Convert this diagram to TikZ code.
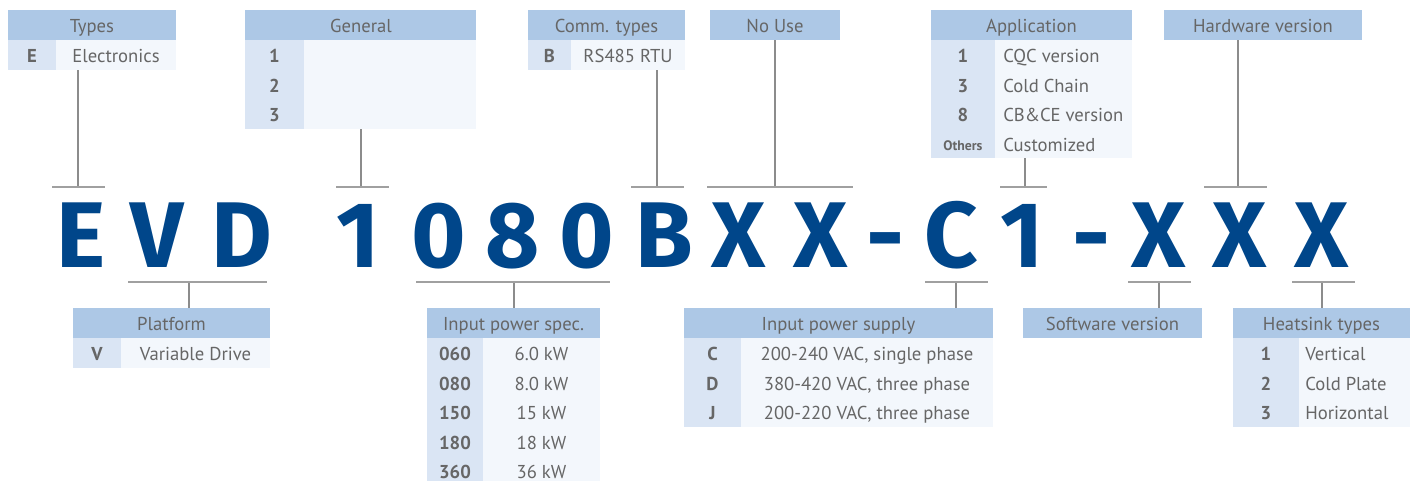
\documentclass[tikz,border=0pt]{standalone}
\usepackage{fontspec}
\setmainfont{PT Sans}
\newfontfamily\bigfont{Fira Sans}
\definecolor{hdrc}{HTML}{ADC8E6}
\definecolor{codec}{HTML}{DAE5F4}
\definecolor{datac}{HTML}{F3F7FC}
\definecolor{txtc}{HTML}{666666}
\definecolor{evd}{HTML}{00468A}
\definecolor{lnc}{HTML}{8C8C8C}
\definecolor{tkc}{HTML}{A0A0A0}
\tikzset{
  lbl/.style={text=txtc, font=\fontsize{14}{16}\selectfont, inner sep=0pt, anchor=base},
  lbll/.style={lbl, anchor=base west},
  codetxt/.style={text=txtc, font=\bfseries\fontsize{14}{16}\selectfont, inner sep=0pt, anchor=base},
  smallcode/.style={text=txtc, font=\bfseries\fontsize{10.3}{12}\selectfont, inner sep=0pt, anchor=base},
  big/.style={text=evd, font=\bigfont\bfseries\fontsize{70}{70}\selectfont, inner sep=0pt, anchor=base},
  conn/.style={draw=lnc, line width=0.8pt},
  tickline/.style={draw=tkc, line width=1.3pt},
}
\newcommand\lnk[6]{%
  \coordinate (#1b) at (#2,#3);
  \coordinate (#1t) at (#2,#4);
  \coordinate (#1l) at (#5,#4);
  \coordinate (#1r) at (#6,#4);
  \draw[conn] (#1b) -- (#1t);
  \draw[tickline] (#1l) -- (#1r);}
\begin{document}
\begin{tikzpicture}[x=0.75pt,y=-0.75pt]
\useasboundingbox (0,0) rectangle (1415,480);
\clip (0,0) rectangle (1415,480);

% ---------- Types ----------
\fill[hdrc] (8,10) rectangle (176,40);
\fill[codec] (8,40) rectangle (56,70);
\fill[datac] (56,40) rectangle (176,70);
\node[lbl] (types) at (92,32.5) {Types};
\node[codetxt] (typesE) at (32,62.5) {E};
\node[lbl] (typesEv) at (116,62.5) {Electronics};
\lnk{types}{78}{70}{187}{52}{105}

% ---------- General ----------
\fill[hdrc] (245,10) rectangle (476,40);
\fill[codec] (245,40) rectangle (304,129);
\fill[datac] (304,40) rectangle (476,129);
\node[lbl] (gen) at (361,32.5) {General};
\node[codetxt] (gen1) at (274.5,62.5) {1};
\node[codetxt] (gen2) at (274.5,92.2) {2};
\node[codetxt] (gen3) at (274.5,121.8) {3};
\lnk{gen}{361}{129}{187}{336}{389}

% ---------- Comm. types ----------
\fill[hdrc] (528,10) rectangle (685,40);
\fill[codec] (528,40) rectangle (571,70);
\fill[datac] (571,40) rectangle (685,70);
\node[lbl] (comm) at (606.5,32.5) {Comm. types};
\node[codetxt] (commB) at (549.5,62.5) {B};
\node[lbl] (commBv) at (628,62.5) {RS485 RTU};
\lnk{comm}{657}{70}{187}{631}{684}

% ---------- No Use ----------
\fill[hdrc] (710,10) rectangle (840,40);
\node[lbl] (nouse) at (775,32.5) {No Use};
\lnk{nouse}{775}{40}{187}{707}{853}

% ---------- Application ----------
\fill[hdrc] (931,10) rectangle (1132,40);
\fill[codec] (931,40) rectangle (995,158);
\fill[datac] (995,40) rectangle (1132,158);
\node[lbl] (app) at (1031.5,32.5) {Application};
\node[codetxt] (app1) at (963,62.5) {1};
\node[codetxt] (app3) at (963,92.2) {3};
\node[codetxt] (app8) at (963,121.8) {8};
\node[smallcode] (appO) at (963,150.5) {Others};
\node[lbll] (app1v) at (1003,62.5) {CQC version};
\node[lbll] (app3v) at (1003,92.2) {Cold Chain};
\node[lbll] (app8v) at (1003,121.8) {CB\&CE version};
\node[lbll] (appOv) at (1003,151.5) {Customized};
\lnk{app}{1025}{158}{187}{1000}{1047}

% ---------- Hardware version ----------
\fill[hdrc] (1164,10) rectangle (1362,40);
\node[lbl] (hw) at (1263,32.5) {Hardware version};
\lnk{hw}{1238}{40}{187}{1204}{1267}

% ---------- big code ----------
\node[big] (l1) at (81,267.3) {E};
\node[big] (l2) at (157,267.3) {V};
\node[big] (l3) at (242,267.3) {D};
\node[big] (l4) at (358,267.3) {1};
\node[big] (l5) at (438.5,267.3) {0};
\node[big] (l6) at (512.5,267.3) {8};
\node[big] (l7) at (586.5,267.3) {0};
\node[big] (l8) at (664,267.3) {B};
\node[big] (l9) at (738.5,267.3) {X};
\node[big] (l10) at (820.5,267.3) {X};
\node[big] (l11) at (885,267.3) {-};
\node[big] (l12) at (951,267.3) {C};
\node[big] (l13) at (1022,267.3) {1};
\node[big] (l14) at (1091,267.3) {-};
\node[big] (l15) at (1159,267.3) {X};
\node[big] (l16) at (1240,267.3) {X};
\node[big] (l17) at (1321.5,267.3) {X};

% ---------- Platform ----------
\lnk{plat}{189}{308}{282}{128}{267}
\fill[hdrc] (73,308) rectangle (270,338);
\fill[codec] (73,338) rectangle (121,368);
\fill[datac] (121,338) rectangle (270,368);
\node[lbl] (plath) at (171.5,330.5) {Platform};
\node[codetxt] (platV) at (97,360.5) {V};
\node[lbl] (platVv) at (195.5,360.5) {Variable Drive};

% ---------- Input power spec. ----------
\lnk{ips}{514}{308}{282}{416}{610}
\fill[hdrc] (427,308) rectangle (600,338);
\fill[codec] (427,338) rectangle (483,490);
\fill[datac] (483,338) rectangle (600,490);
\node[lbl] (ipsh) at (513.5,330.5) {Input power spec.};
\node[codetxt] (ips1) at (455,360.5) {060};
\node[codetxt] (ips2) at (455,390.2) {080};
\node[codetxt] (ips3) at (455,419.8) {150};
\node[codetxt] (ips4) at (455,449.5) {180};
\node[codetxt] (ips5) at (455,478.5) {360};
\node[lbl] (ips1v) at (541.5,360.5) {6.0 kW};
\node[lbl] (ips2v) at (541.5,390.2) {8.0 kW};
\node[lbl] (ips3v) at (541.5,419.8) {15 kW};
\node[lbl] (ips4v) at (541.5,449.5) {18 kW};
\node[lbl] (ips5v) at (541.5,478.5) {36 kW};

% ---------- Input power supply ----------
\lnk{ipp}{956}{308}{282}{925}{988}
\fill[hdrc] (684,308) rectangle (993,338);
\fill[codec] (684,338) rectangle (741,427);
\fill[datac] (741,338) rectangle (993,427);
\node[lbl] (ipph) at (838.5,330.5) {Input power supply};
\node[codetxt] (ippC) at (712.5,360.5) {C};
\node[codetxt] (ippD) at (712.5,390.2) {D};
\node[codetxt] (ippJ) at (712.5,419.8) {J};
\node[lbl] (ippCv) at (867,360.5) {200-240 VAC, single phase};
\node[lbl] (ippDv) at (867,390.2) {380-420 VAC, three phase};
\node[lbl] (ippJv) at (867,419.8) {200-220 VAC, three phase};

% ---------- Software version ----------
\lnk{sw}{1159}{308}{282}{1128}{1191}
\fill[hdrc] (1023,308) rectangle (1202,338);
\node[lbl] (swh) at (1112.5,330.5) {Software version};

% ---------- Heatsink types ----------
\lnk{hs}{1322}{308}{282}{1292}{1355}
\fill[hdrc] (1233,308) rectangle (1410,338);
\fill[codec] (1233,338) rectangle (1299,427);
\fill[datac] (1299,338) rectangle (1410,427);
\node[lbl] (hsh) at (1321.5,330.5) {Heatsink types};
\node[codetxt] (hs1) at (1266,360.5) {1};
\node[codetxt] (hs2) at (1266,390.2) {2};
\node[codetxt] (hs3) at (1266,419.8) {3};
\node[lbll] (hs1v) at (1305,360.5) {Vertical};
\node[lbll] (hs2v) at (1305,390.2) {Cold Plate};
\node[lbll] (hs3v) at (1305,419.8) {Horizontal};
\end{tikzpicture}
\end{document}
